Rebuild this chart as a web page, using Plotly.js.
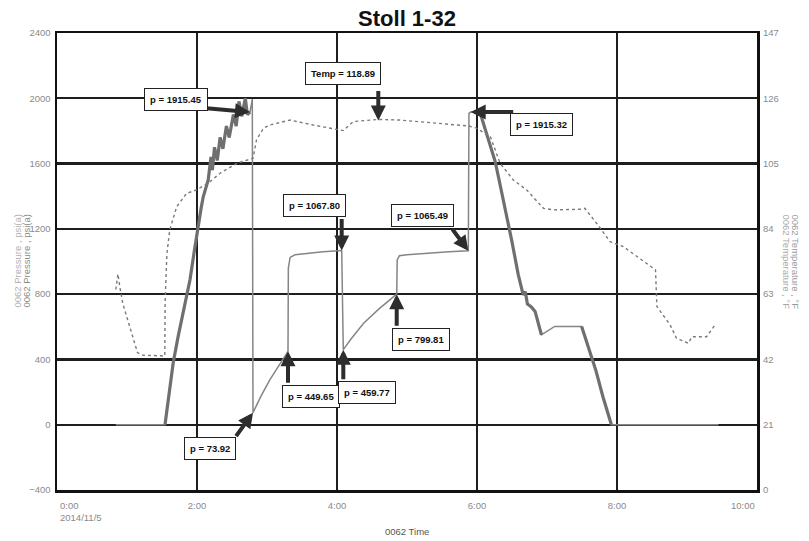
<!DOCTYPE html>
<html><head><meta charset="utf-8">
<script src="https://cdn.plot.ly/plotly-3.0.1.min.js"></script>
<style>body{margin:0;background:#fff}#chart{width:809px;height:541px}</style>
</head><body><div id="chart"></div>
<script>
// Pressure (psi(a)) vs elapsed time in hours
const pressureTime = [0.84,1.543,1.60,1.66,1.73,1.80,1.86,1.90,1.96,2.02,2.06,2.09,2.13,2.16,2.20,2.22,2.25,2.29,2.33,2.37,2.42,2.46,2.52,2.56,2.60,2.64,2.69,2.72,2.757,2.79,2.80,2.92,3.04,3.17,3.30,3.305,3.33,3.40,3.60,3.80,4.067,4.09,4.20,4.38,4.60,4.853,4.86,4.89,5.00,5.30,5.60,5.876,5.885,5.91,5.98,6.04,6.15,6.26,6.33,6.40,6.50,6.59,6.66,6.69,6.72,6.78,6.83,6.92,7.11,7.495,7.60,7.70,7.80,7.92,9.45];
const pressureValue = [0,0,190,380,540,685,790,888,1060,1236,1330,1398,1460,1500,1640,1560,1700,1620,1760,1690,1830,1760,1900,1830,1980,1890,2000,1900,1915.45,1995,73.92,180,275,365,449.65,960,1025,1041,1052,1060,1067.80,459.77,525,622,710,799.81,1010,1035,1042,1052,1060,1065.49,1908,1915.32,1915,1918,1770,1612,1470,1328,1120,918,796,815,740,720,694,551,602,602,470,330,170,0,0];
// Pressure ramps drawn heavier (noisy gauge segments)
const rampWindows = [[1.543,2.757],[6.04,6.92],[7.495,7.92]];

// Temperature (°F) vs elapsed time in hours
const tempTime = [0.84,0.87,0.90,0.94,1.01,1.08,1.15,1.21,1.50,1.54,1.545,1.57,1.61,1.71,1.85,1.99,2.16,2.33,2.57,2.76,2.80,2.85,2.95,3.04,3.33,3.66,4.00,4.09,4.23,4.59,4.90,5.19,5.57,5.88,5.99,6.19,6.33,6.52,6.71,6.80,6.95,7.09,7.47,7.54,7.73,7.90,8.09,8.55,8.57,8.76,8.85,9.02,9.07,9.28,9.33,9.40];
const tempValue = [64.5,69.5,65,60,54.7,49.3,44.2,43.4,43.1,43.1,61,76,83.6,91.1,95.4,96.5,98.7,101.9,105.1,106.4,106.7,112.6,116.4,117.4,119.0,117.4,115.8,115.6,118.5,119.2,119.0,118.5,117.7,117.1,116.4,113.7,105.1,99.7,96.5,94.4,90.6,90.1,90.3,90.6,85.2,79.9,78.3,70.8,59.0,53.1,48.8,47.2,49.3,49.3,50.9,53.1];

const xTickHours = [2,4,6,8];
const xTickLabels = ['2:00','4:00','6:00','8:00'];
const firstTickLabel = '0:00<br>2014/11/5';
const lastTickLabel = '10:00';
const pressureTitle = '0062 Pressure , psi(a)';
const tempTitle = '0062 Temperature , °F';

// Callouts
const noteText  = ['p = 1915.45','Temp = 118.89','p = 1067.80','p = 1065.49','p = 449.65','p = 459.77','p = 799.81','p = 1915.32','p = 73.92'];
const noteTime  = [2.757,4.59,4.067,5.876,3.30,4.09,4.853,5.91,2.80];
const noteValue = [1915.45,118.89,1067.80,1065.49,449.65,459.77,799.81,1915.32,73.92];
const noteAxis  = ['y','y2','y','y','y','y','y','y','y'];

// placement (pixels): arrow tail offset and box offset from arrow tip
const notePlace = [
  {ax:-45,ay:-4, dx:-74,dy:13},
  {ax:0,ay:-31, dx:-35,dy:47},
  {ax:0,ay:-33, dx:-27,dy:45},
  {ax:-17,ay:-23, dx:-46,dy:35},
  {ax:0,ay:33, dx:23,dy:-45},
  {ax:0,ay:31, dx:24,dy:-43},
  {ax:0,ay:33, dx:24.5,dy:-45},
  {ax:44,ay:0, dx:71,dy:-12},
  {ax:-18,ay:25, dx:-43,dy:-36}
];

const SANS = 'Liberation Sans, Arial, sans-serif';

const rampValue = pressureValue.map((v,i)=>{
  const t = pressureTime[i];
  return rampWindows.some(w=>t>=w[0]&&t<=w[1]) ? v : null;
});

const traces = [
  {x:pressureTime, y:pressureValue, type:'scatter', mode:'lines', line:{color:'#858585', width:1.5}, hoverinfo:'skip'},
  {x:pressureTime, y:rampValue, type:'scatter', mode:'lines', connectgaps:false, line:{color:'#6f6f6f', width:3.2}, hoverinfo:'skip'},
  {x:tempTime, y:tempValue, yaxis:'y2', type:'scatter', mode:'lines', line:{color:'#7a7a7a', width:1.4, dash:'dot'}, hoverinfo:'skip'}
];

const tickFont = {family:SANS, size:9.5, color:'#8a8a8a'};
const annotations = [];
noteText.forEach((txt,i)=>{
  const p = notePlace[i];
  annotations.push({x:noteTime[i], y:noteValue[i], xref:'x', yref:noteAxis[i], text:'', showarrow:true,
    ax:p.ax, ay:p.ay, arrowhead:2, arrowsize:0.75, arrowwidth:4, arrowcolor:'#2d2d2d', standoff:0, startstandoff:0});
  annotations.push({x:noteTime[i], y:noteValue[i], xref:'x', yref:noteAxis[i], text:'<b>'+txt+'</b>', showarrow:false,
    xshift:p.dx, yshift:p.dy, xanchor:'center', yanchor:'middle', bgcolor:'#ffffff', bordercolor:'#222', borderwidth:1, borderpad:5,
    font:{family:SANS, size:9.5, color:'#111'}});
});
annotations.push({x:0, y:0, xref:'x', yref:'paper', text:firstTickLabel, showarrow:false, xanchor:'left', yanchor:'top', align:'left', xshift:1, yshift:-8, font:tickFont});
annotations.push({x:10, y:0, xref:'x', yref:'paper', text:lastTickLabel, showarrow:false, xanchor:'right', yanchor:'top', xshift:0, yshift:-8, font:tickFont});
annotations.push({x:0, y:0.5, xref:'paper', yref:'paper', text:pressureTitle, showarrow:false, textangle:-90, xanchor:'center', yanchor:'middle', xshift:-40, font:{family:SANS, size:9.5, color:'#b0b0b0'}});
annotations.push({x:0, y:0.5, xref:'paper', yref:'paper', text:pressureTitle, showarrow:false, textangle:-90, xanchor:'center', yanchor:'middle', xshift:-31, font:{family:SANS, size:9.5, color:'#8a8a8a'}});
annotations.push({x:1, y:0.5, xref:'paper', yref:'paper', text:tempTitle, showarrow:false, textangle:90, xanchor:'center', yanchor:'middle', xshift:38, font:{family:SANS, size:9.5, color:'#9a9a9a'}});
annotations.push({x:1, y:0.5, xref:'paper', yref:'paper', text:tempTitle, showarrow:false, textangle:90, xanchor:'center', yanchor:'middle', xshift:29, font:{family:SANS, size:9.5, color:'#a8a8a8'}});
annotations.push({x:0.5, y:0, xref:'paper', yref:'paper', text:'0062 Time', showarrow:false, xanchor:'center', yanchor:'middle', yshift:-41, font:{family:SANS, size:9.5, color:'#555'}});

const layout = {
  width:809, height:541,
  margin:{l:57, r:52, t:33, b:51, pad:0},
  paper_bgcolor:'#ffffff', plot_bgcolor:'#ffffff',
  showlegend:false,
  title:{text:'<b>Stoll 1-32</b>', font:{family:SANS, size:22, color:'#111'}, x:0.5, xref:'paper', xanchor:'center', y:1-18/541, yanchor:'middle'},
  xaxis:{range:[0,10], tickvals:xTickHours, ticktext:xTickLabels, showgrid:true, gridcolor:'#1e1e1e', gridwidth:1.4,
    showline:true, mirror:true, linecolor:'#111', linewidth:2.5, zeroline:false, ticks:'', tickfont:tickFont, ticklabelstandoff:5, fixedrange:true},
  yaxis:{range:[-400,2400], tick0:0, dtick:400, showgrid:true, gridcolor:'#1e1e1e', gridwidth:2.2,
    showline:true, mirror:true, linecolor:'#111', linewidth:2.5, zeroline:false, ticks:'', tickfont:tickFont, ticklabelstandoff:2, fixedrange:true},
  yaxis2:{range:[0,147], tick0:0, dtick:21, overlaying:'y', side:'right', showgrid:false, zeroline:false, showline:false,
    ticks:'', tickfont:tickFont, ticklabelstandoff:5, fixedrange:true},
  annotations:annotations
};

Plotly.newPlot('chart', traces, layout, {displayModeBar:false, staticPlot:true});
</script>
</body></html>
